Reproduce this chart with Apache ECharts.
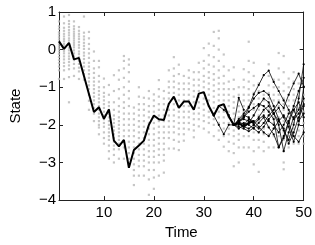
<!DOCTYPE html>
<html><head><meta charset="utf-8">
<script src="https://cdn.jsdelivr.net/npm/echarts@6/dist/echarts.min.js"></script>
<style>html,body{margin:0;padding:0;background:#fff}#c{width:315px;height:245px}</style>
</head><body><div id="c"></div>
<script>
const xTicks = [10, 20, 30, 40, 50];
const yTicks = [-4, -3, -2, -1, 0, 1];
// gray sample dots: one column per time step t = 1..50
const dotCols = [
[0.75,0.62,0.55,0.46,0.4,0.33,0.27,0.2,0.14,0.08,0.02,-0.05,-0.12,-0.2,-0.28,-0.36,-0.45,-0.55,-0.78],
[0.88,0.7,0.58,0.5,0.42,0.35,0.28,0.22,0.15,0.09,0.03,-0.04,-0.1,-0.18,-0.26,-0.35,-0.44,-0.55,-0.78],
[0.92,0.76,0.68,0.6,0.52,0.45,0.38,0.3,0.24,0.12,0.05,-0.02,-0.1,-0.18,-0.25,-0.33,-0.42,-0.52,-0.73,-1.4],
[0.75,0.62,0.55,0.48,0.42,0.36,0.3,0.24,0.18,0.12,0.06,-0.02,-0.1,-0.18,-0.28,-0.38,-0.5,-0.7],
[0.6,0.5,0.42,0.35,0.28,0.2,0.12,0.05,-0.05,-0.12,-0.2,-0.3,-0.38,-0.48,-0.58,-0.78],
[0.88,0.45,0.35,0.27,0.18,0.1,0.02,-0.08,-0.16,-0.25,-0.35,-0.45,-0.55,-0.65,-0.8],
[0.47,0.3,0.15,0.02,-0.1,-0.22,-0.35,-0.45,-0.55,-0.65,-0.75,-0.85,-0.95,-1.05,-1.2,-1.36,-1.6],
[-0.05,-0.3,-0.5,-0.62,-0.75,-0.85,-0.95,-1.05,-1.15,-1.25,-1.35,-1.45,-1.55,-1.7,-1.9],
[-0.3,-0.47,-0.7,-0.85,-1.0,-1.1,-1.2,-1.3,-1.4,-1.5,-1.6,-1.7,-1.8,-1.9,-2.0,-2.07,-2.25],
[-0.77,-1.0,-1.15,-1.25,-1.35,-1.45,-1.55,-1.65,-1.75,-1.85,-1.95,-2.05,-2.2,-2.35,-2.5],
[-0.94,-1.2,-1.4,-1.5,-1.6,-1.7,-1.8,-1.9,-2.0,-2.1,-2.2,-2.3,-2.4,-2.55,-2.7,-2.9],
[-0.68,-1.1,-1.4,-1.6,-1.75,-1.85,-1.95,-2.05,-2.15,-2.25,-2.35,-2.45,-2.55,-2.65,-2.8,-3.0],
[-0.55,-0.8,-1.05,-1.3,-1.5,-1.65,-1.8,-1.9,-2.0,-2.1,-2.2,-2.3,-2.4,-2.5,-2.65,-2.9],
[-0.17,-0.3,-0.5,-0.75,-1.0,-1.2,-1.4,-1.55,-1.7,-1.85,-2.0,-2.15,-2.3,-2.45,-2.6,-2.9],
[-0.26,-0.4,-0.6,-0.85,-1.1,-1.3,-1.5,-1.7,-1.85,-2.0,-2.15,-2.3,-2.45,-2.6,-2.75,-2.9],
[-1.54,-1.7,-1.85,-2.0,-2.15,-2.3,-2.45,-2.6,-2.75,-2.9,-3.05,-3.2,-3.35,-3.6],
[-1.0,-1.25,-1.45,-1.6,-1.75,-1.9,-2.05,-2.2,-2.35,-2.5,-2.65,-2.8,-2.95,-3.1,-3.35],
[-1.28,-1.45,-1.6,-1.75,-1.9,-2.05,-2.2,-2.35,-2.5,-2.65,-2.8,-2.95,-3.1,-3.35],
[-1.1,-1.3,-1.5,-1.65,-1.8,-1.95,-2.1,-2.25,-2.4,-2.55,-2.7,-2.85,-3.0,-3.2,-3.45,-3.86],
[-1.19,-1.35,-1.5,-1.65,-1.8,-1.95,-2.1,-2.25,-2.4,-2.55,-2.7,-2.85,-3.0,-3.2,-3.4,-3.7],
[-0.81,-1.05,-1.25,-1.45,-1.6,-1.75,-1.9,-2.05,-2.2,-2.35,-2.5,-2.65,-2.8,-3.0,-3.35],
[-1.1,-1.3,-1.45,-1.6,-1.75,-1.9,-2.05,-2.2,-2.35,-2.5,-2.65,-2.8,-2.95,-3.27],
[-0.55,-0.85,-1.0,-1.15,-1.3,-1.45,-1.6,-1.75,-1.9,-2.05,-2.2,-2.35,-2.63],
[-0.2,-0.5,-0.7,-0.85,-1.0,-1.15,-1.3,-1.45,-1.6,-1.75,-1.9,-2.05,-2.2,-2.4,-2.63],
[-0.4,-0.65,-0.9,-1.05,-1.2,-1.35,-1.5,-1.65,-1.8,-1.95,-2.1,-2.25,-2.45,-2.67],
[-0.7,-0.9,-1.05,-1.2,-1.35,-1.5,-1.65,-1.8,-1.95,-2.1,-2.25,-2.42],
[-0.55,-0.75,-0.9,-1.05,-1.2,-1.35,-1.5,-1.65,-1.8,-1.95,-2.12],
[-0.6,-0.8,-0.95,-1.1,-1.25,-1.4,-1.55,-1.7,-1.85,-2.0,-2.15,-2.33],
[-0.35,-0.6,-0.8,-0.95,-1.1,-1.25,-1.4,-1.55,-1.7,-1.85,-2.04],
[0.04,-0.3,-0.5,-0.7,-0.85,-1.0,-1.15,-1.3,-1.45,-1.6,-1.75,-1.9,-2.1],
[0.16,-0.15,-0.4,-0.6,-0.75,-0.9,-1.05,-1.2,-1.35,-1.5,-1.65,-1.8,-1.95,-2.2],
[0.47,0.1,-0.2,-0.45,-0.65,-0.8,-0.95,-1.1,-1.25,-1.4,-1.55,-1.7,-1.85,-2.0,-2.3],
[0.5,0.3,0.0,-0.3,-0.55,-0.75,-0.9,-1.05,-1.2,-1.35,-1.5,-1.65,-1.8,-1.95,-2.15,-2.4],
[-0.13,-0.45,-0.7,-0.9,-1.05,-1.2,-1.35,-1.5,-1.65,-1.8,-1.95,-2.1,-2.3,-2.58],
[-0.55,-0.85,-1.05,-1.2,-1.35,-1.5,-1.65,-1.8,-1.95,-2.1,-2.25,-2.45,-2.7],
[-0.47,-0.8,-1.05,-1.25,-1.4,-1.55,-1.7,-1.85,-2.0,-2.15,-2.3,-2.5,-2.75,-3.1],
[-1.0,-1.2,-1.35,-1.5,-1.65,-1.8,-1.95,-2.1,-2.25,-2.4,-2.6,-3.0],
[-0.52,-0.8,-1.0,-1.2,-1.35,-1.5,-1.65,-1.8,-1.95,-2.1,-2.3,-2.6],
[0.21,-0.3,-0.6,-0.85,-1.05,-1.2,-1.35,-1.5,-1.65,-1.8,-1.95,-2.1,-2.3,-2.6],
[-0.35,-0.7,-0.95,-1.15,-1.3,-1.45,-1.6,-1.75,-1.9,-2.05,-2.2,-2.4,-2.7,-3.05],
[-0.9,-1.1,-1.3,-1.45,-1.6,-1.75,-1.9,-2.05,-2.2,-2.4,-2.6,-3.25],
[-1.2,-1.35,-1.5,-1.65,-1.8,-1.95,-2.1,-2.25,-2.45,-2.7],
[-0.39,-0.7,-0.95,-1.15,-1.3,-1.45,-1.6,-1.75,-1.9,-2.05,-2.25,-2.6],
[-0.8,-1.0,-1.2,-1.35,-1.5,-1.65,-1.8,-1.95,-2.1,-2.3,-2.6],
[-0.09,-0.5,-0.8,-1.0,-1.2,-1.35,-1.5,-1.65,-1.8,-1.95,-2.1,-2.3,-2.6],
[-0.17,-0.6,-0.9,-1.1,-1.3,-1.45,-1.6,-1.75,-1.9,-2.05,-2.2,-2.4,-2.7,-3.0,-3.18],
[-0.77,-1.0,-1.2,-1.35,-1.5,-1.65,-1.8,-1.95,-2.1,-2.3,-2.6],
[-0.6,-0.85,-1.05,-1.2,-1.35,-1.5,-1.65,-1.8,-1.95,-2.1,-2.3,-2.5],
[-0.9,-1.1,-1.25,-1.4,-1.55,-1.7,-1.85,-2.0,-2.15,-2.3,-2.5],
[-1.0,-1.2,-1.35,-1.5,-1.65,-1.8,-1.95,-2.1,-2.3,-2.5]
];
// thick estimated state, t = 1..40
const stateMain = [0.22,0.02,0.18,-0.26,-0.22,-0.7,-1.18,-1.66,-1.53,-1.84,-1.59,-2.42,-2.57,-2.40,-3.14,-2.67,-2.55,-2.42,-2.0,-1.75,
  -1.85,-1.87,-1.44,-1.25,-1.55,-1.38,-1.38,-1.6,-1.17,-1.13,-1.5,-1.75,-1.5,-1.45,-1.78,-2.0,-1.95,-2.05,-1.95,-1.9];
// thin trajectories, t = 36..50
const trajStart = 36;
const traj1 = [-2.0,-1.85,-1.7,-1.53,-1.19,-0.94,-0.68,-0.56,-0.86,-1.1,-1.35,-1.6,-1.85,-1.7,-1.45];
const traj2 = [-2.0,-1.95,-1.8,-1.55,-1.3,-1.15,-1.1,-1.2,-1.5,-1.85,-2.15,-2.4,-2.0,-1.3,-0.39];
const traj3 = [-2.0,-2.05,-2.1,-2.17,-2.08,-1.95,-1.8,-2.07,-2.25,-2.59,-2.3,-1.9,-1.5,-1.1,-0.75];
const traj4 = [-2.0,-1.9,-2.0,-1.95,-1.75,-1.5,-1.3,-1.4,-1.7,-2.0,-2.7,-2.2,-1.8,-1.6,-1.3];
const traj5 = [-2.0,-1.9,-1.75,-1.8,-2.0,-2.1,-1.95,-1.75,-1.6,-1.4,-1.55,-1.2,-0.9,-0.64,-0.98];
const traj6 = [-2.0,-2.1,-2.0,-1.85,-1.9,-2.05,-2.2,-2.3,-2.1,-1.9,-1.75,-1.95,-2.3,-2.45,-2.2];
const traj7 = [-2.0,-1.95,-2.05,-2.1,-2.0,-1.85,-1.75,-1.9,-2.0,-2.2,-2.0,-1.7,-1.6,-1.9,-1.7];
const traj8 = [-2.0,-1.9,-1.85,-1.9,-1.95,-1.8,-1.6,-1.5,-1.7,-1.9,-2.1,-2.5,-2.2,-1.8,-1.5];
const traj9 = [-2.0,-2.0,-1.95,-2.0,-2.1,-2.2,-2.05,-1.85,-1.7,-1.55,-1.8,-2.05,-2.45,-2.0,-1.0];
const traj10 = [-2.0,-1.9,-1.8,-1.65,-1.55,-1.45,-1.5,-1.65,-1.85,-2.6,-2.35,-1.95,-1.6,-1.4,-1.8];
// earlier branches, t = 32..38
const branchStart = 32;
const branch1 = [-1.75,-2.0,-2.25,-2.0,-2.0,-1.95];
const branch2 = [-1.75,-1.5,-1.6,-1.74,-2.0,-1.28,-1.6];

const scatterData = [];
dotCols.forEach((col, i) => col.forEach(v => scatterData.push([i + 1, v])));
const mainData = stateMain.map((v, i) => [i + 1, v]);
const trajs = [traj1, traj2, traj3, traj4, traj5, traj6, traj7, traj8, traj9, traj10];
const thin = (arr, s) => ({
  type: 'line', data: arr.map((v, i) => [s + i, v]), showSymbol: true, symbol: 'circle', symbolSize: 2.2,
  lineStyle: {color: '#000', width: 0.8}, itemStyle: {color: '#000'}, silent: true, animation: false, z: 3
});
const font = 'Liberation Sans, Arial, sans-serif';
const axisCommon = {
  axisLine: {show: true, onZero: false, lineStyle: {color: '#222', width: 1}},
  splitLine: {show: false}
};
const chart = echarts.init(document.getElementById('c'), null, {renderer: 'canvas'});
chart.setOption({
  animation: false,
  grid: {left: 43, right: 11, top: 12, bottom: 36},
  xAxis: [
    Object.assign({}, axisCommon, {type: 'value', min: 1, max: 50, position: 'bottom',
      name: 'Time', nameLocation: 'middle', nameGap: 22,
      nameTextStyle: {fontFamily: font, fontSize: 15, color: '#000'},
      axisTick: {inside: true, length: 4, customValues: xTicks, lineStyle: {color: '#222'}},
      axisLabel: {customValues: xTicks, fontFamily: font, fontSize: 15, color: '#000', margin: 5}}),
    Object.assign({}, axisCommon, {type: 'value', min: 1, max: 50, position: 'top',
      axisTick: {inside: true, length: 4, customValues: xTicks, lineStyle: {color: '#222'}},
      axisLabel: {show: false}})
  ],
  yAxis: [
    Object.assign({}, axisCommon, {type: 'value', min: -4, max: 1, interval: 1, position: 'left',
      name: 'State', nameLocation: 'middle', nameGap: 36,
      nameTextStyle: {fontFamily: font, fontSize: 15, color: '#000'},
      axisTick: {inside: true, length: 4, lineStyle: {color: '#222'}},
      axisLabel: {fontFamily: font, fontSize: 15, color: '#000', margin: 3,
        formatter: v => (v < 0 ? '\u2212' + Math.abs(v) : String(v))}}),
    Object.assign({}, axisCommon, {type: 'value', min: -4, max: 1, interval: 1, position: 'right',
      axisTick: {inside: true, length: 4, lineStyle: {color: '#222'}},
      axisLabel: {show: false}})
  ],
  series: [
    {type: 'scatter', data: scatterData, symbol: 'rect', symbolSize: 2.2,
      itemStyle: {color: '#b8b8b8'}, silent: true, z: 1},
    {type: 'line', data: mainData, showSymbol: false, lineStyle: {color: '#000', width: 2},
      silent: true, z: 4},
    thin(branch1, branchStart), thin(branch2, branchStart),
    ...trajs.map(t => thin(t, trajStart))
  ]
});
</script></body></html>
